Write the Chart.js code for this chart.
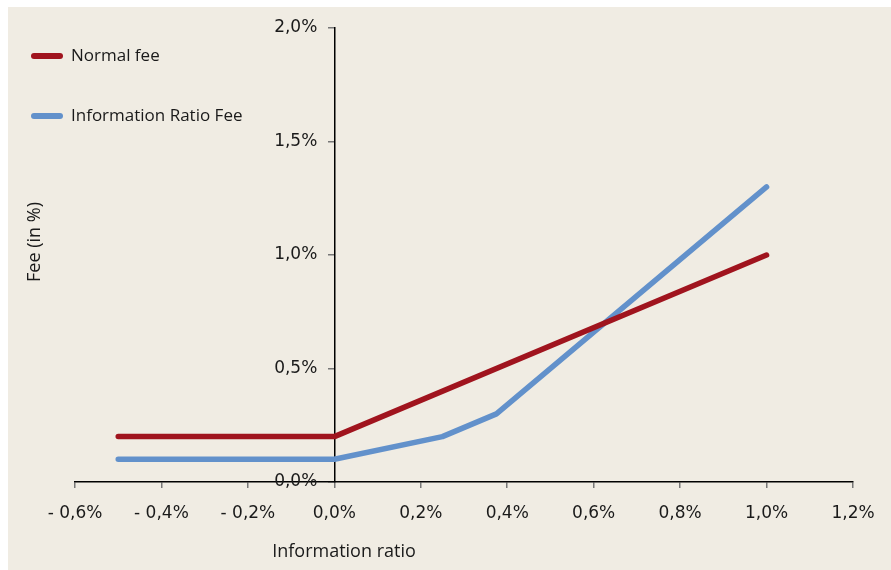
<!DOCTYPE html>
<html>
<head>
<meta charset="utf-8">
<script src="https://cdn.jsdelivr.net/npm/chart.js@4.4.0/dist/chart.umd.min.js"></script>
<style>
  html, body { margin: 0; padding: 0; background: #ffffff; }
  #wrap { width: 891px; height: 570px; }
</style>
</head>
<body>
<div id="wrap"><canvas id="feeChart" width="891" height="570"></canvas></div>
<script>
// Fee vs information ratio

const normalX = [-0.5, 0, 1.0];
const normalFee = [0.2, 0.2, 1.0];

const irX = [-0.5, 0, 0.25, 0.375, 1.0];
const irFee = [0.1, 0.1, 0.2, 0.3, 1.3];

const xTicks = [-0.6, -0.4, -0.2, 0, 0.2, 0.4, 0.6, 0.8, 1.0, 1.2];
const yTicks = [0, 0.5, 1.0, 1.5, 2.0];

const colors = {
  bg: '#F0ECE3',
  red: '#A0141E',
  blue: '#6291CB',
  text: '#1a1a1a',
  tick: '#777777'
};

const FONT = 'Open Sans';
const TICK_FONT = 'DejaVu Sans';

function pct(v) {
  const s = Math.abs(v).toFixed(1).replace('.', ',') + '%';
  return v < -1e-9 ? '- ' + s : s;
}

function toPoints(xs, ys) {
  return xs.map((x, i) => ({ x: x, y: ys[i] }));
}

const backdrop = {
  id: 'backdrop',
  beforeDraw(chart) {
    const ctx = chart.ctx;
    ctx.save();
    ctx.fillStyle = colors.bg;
    ctx.fillRect(8, 7, chart.width - 8, chart.height - 7);
    ctx.restore();
  }
};

// legend, axis titles drawn by hand
const extras = {
  id: 'extras',
  afterDraw(chart) {
    const ctx = chart.ctx;
    ctx.save();
    ctx.font = '17px "' + FONT + '"';
    ctx.fillStyle = colors.text;
    ctx.textBaseline = 'middle';
    chart.data.datasets.forEach((ds, i) => {
      const y = 56 + i * 60;
      ctx.strokeStyle = ds.borderColor;
      ctx.lineWidth = 6;
      ctx.lineCap = 'round';
      ctx.beginPath();
      ctx.moveTo(34, y);
      ctx.lineTo(60, y);
      ctx.stroke();
      ctx.fillText(ds.label, 71, y);
    });

    ctx.font = '18px "' + FONT + '"';
    ctx.textAlign = 'center';
    ctx.fillText('Information ratio', 344, 552);

    ctx.translate(35, 242);
    ctx.rotate(-Math.PI / 2);
    ctx.fillText('Fee (in %)', 0, 0);
    ctx.restore();
  }
};

new Chart(document.getElementById('feeChart').getContext('2d'), {
  type: 'scatter',
  data: {
    datasets: [{
      label: 'Normal fee',
      data: toPoints(normalX, normalFee),
      borderColor: colors.red,
      backgroundColor: colors.red,
      showLine: true,
      borderWidth: 5.5,
      pointRadius: 0,
      borderJoinStyle: 'round',
      borderCapStyle: 'round'
    }, {
      label: 'Information Ratio Fee',
      data: toPoints(irX, irFee),
      borderColor: colors.blue,
      backgroundColor: colors.blue,
      showLine: true,
      borderWidth: 5.5,
      pointRadius: 0,
      borderJoinStyle: 'round',
      borderCapStyle: 'round'
    }]
  },
  options: {
    responsive: false,
    animation: false,
    layout: {
      padding: { left: 75, right: 38, top: 28, bottom: 0 }
    },
    plugins: {
      legend: { display: false },
      tooltip: { enabled: false }
    },
    scales: {
      x: {
        type: 'linear',
        position: 'bottom',
        min: -0.6,
        max: 1.2,
        afterBuildTicks: axis => { axis.ticks = xTicks.map(v => ({ value: v })); },
        afterFit: axis => { axis.height = 88; },
        border: { display: true, color: '#000000', width: 1.5 },
        grid: {
          drawOnChartArea: false,
          drawTicks: true,
          tickLength: 6,
          color: colors.tick,
          lineWidth: 1.5
        },
        ticks: {
          padding: 15,
          color: colors.text,
          maxRotation: 0,
          font: { family: TICK_FONT, size: 17 },
          callback: v => pct(v)
        }
      },
      y: {
        type: 'linear',
        position: { x: 0 },
        min: 0,
        max: 2.0,
        afterBuildTicks: axis => { axis.ticks = yTicks.map(v => ({ value: v })); },
        border: { display: true, color: '#000000', width: 1.5 },
        grid: {
          drawOnChartArea: false,
          drawTicks: true,
          tickLength: 6,
          color: colors.tick,
          lineWidth: 1.5
        },
        ticks: {
          color: colors.text,
          font: { family: TICK_FONT, size: 17 },
          // centred axis draws labels flush against the line, so pad with an em space
          callback: v => pct(v) + '\u2003'
        }
      }
    }
  },
  plugins: [backdrop, extras]
});
</script>
</body>
</html>
